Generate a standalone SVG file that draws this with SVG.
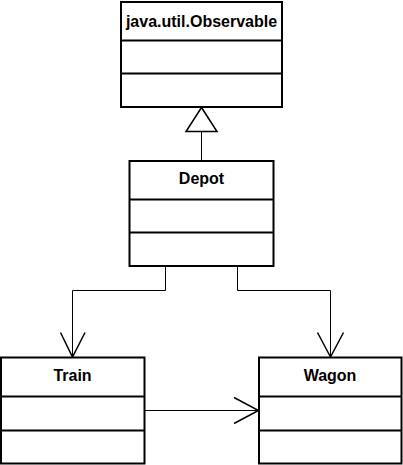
<svg xmlns="http://www.w3.org/2000/svg" width="403" height="465" viewBox="0 0 403 465">
<style>
.box{fill:#fff;stroke:#000;stroke-width:2}
.div{stroke:#000;stroke-width:2}
.lbl{font-family:"Liberation Sans",Arial,sans-serif;font-weight:bold;font-size:16px;text-anchor:middle;fill:#000}
.con{fill:none;stroke:#000;stroke-width:1}
.head{fill:none;stroke:#000;stroke-width:1.5}
</style>
<rect width="403" height="465" fill="#fff"/>
<g id="connectors">
<line class="con" x1="201.5" y1="131.5" x2="201.5" y2="161"/>
<polygon points="201.5,107.5 186,131.5 217,131.5" fill="#fff" stroke="#000" stroke-width="1.5"/>
<polyline class="con" points="165.5,266 165.5,290.5 72.5,290.5 72.5,357"/>
<polyline class="head" points="60.5,332.5 72.5,357 85,332.5"/>
<polyline class="con" points="237.5,266 237.5,290.5 330.5,290.5 330.5,357"/>
<polyline class="head" points="317.5,332.5 330.5,357 343.5,332.5"/>
<line class="con" x1="145" y1="410.5" x2="258.5" y2="410.5"/>
<polyline class="head" points="234,397.5 258.5,410.5 234,423.5"/>
</g>
<g id="observable">
<rect class="box" x="121" y="2" width="161" height="105"/>
<line class="div" x1="121" y1="40.5" x2="282" y2="40.5"/>
<line class="div" x1="121" y1="73.5" x2="282" y2="73.5"/>
<text class="lbl" x="201.5" y="26.5">java.util.Observable</text>
</g>
<g id="depot">
<rect class="box" x="129.5" y="161" width="144" height="105"/>
<line class="div" x1="129.5" y1="199.5" x2="273.5" y2="199.5"/>
<line class="div" x1="129.5" y1="232.5" x2="273.5" y2="232.5"/>
<text class="lbl" x="201.5" y="183.5">Depot</text>
</g>
<g id="train">
<rect class="box" x="1" y="357.5" width="143.5" height="106"/>
<line class="div" x1="1" y1="396.5" x2="144.5" y2="396.5"/>
<line class="div" x1="1" y1="430.5" x2="144.5" y2="430.5"/>
<text class="lbl" x="72.5" y="380.5">Train</text>
</g>
<g id="wagon">
<rect class="box" x="259" y="357.5" width="142.5" height="106"/>
<line class="div" x1="259" y1="396.5" x2="401.5" y2="396.5"/>
<line class="div" x1="259" y1="430.5" x2="401.5" y2="430.5"/>
<text class="lbl" x="330" y="380.5">Wagon</text>
</g>
</svg>
